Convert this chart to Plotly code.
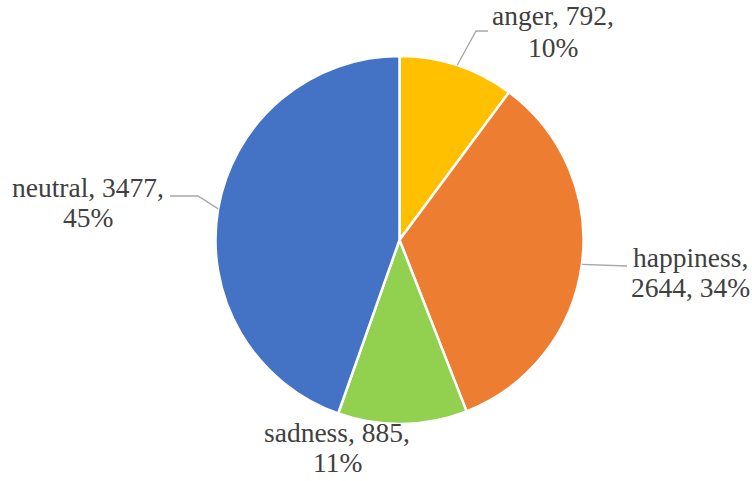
import math
import plotly.graph_objects as go

labels = ["anger", "happiness", "sadness", "neutral"]
values = [792, 2644, 885, 3477]
percents = ["10%", "34%", "11%", "45%"]
colors = ["#FFC000", "#ED7D31", "#92D050", "#4472C4"]

W, H = 752, 481
cx, cy, R = 399.5, 240, 184
FONT = "Liberation Serif, Times New Roman, serif"
FS = 27.5

# label layout: x center and baselines (pixels) of each line; leader line elbows
label_layout = {
    "anger": (553, [25, 57]),
    "happiness": (690, [267, 297]),
    "sadness": (337, [442, 472]),
    "neutral": (88, [197, 227]),
}
label_lines = {
    "anger": ["{l}, {v},", "{p}"],
    "happiness": ["{l},", "{v}, {p}"],
    "sadness": ["{l}, {v},", "{p}"],
    "neutral": ["{l}, {v},", "{p}"],
}
leaders = {
    "anger": [(476, 31), (488, 31)],
    "happiness": [(627, 266)],
    "neutral": [(198, 196), (170, 196)],
}

def px(x, y):
    return x / W, 1 - y / H

fig = go.Figure(go.Pie(
    labels=labels, values=values, sort=False, direction="clockwise", rotation=0,
    marker=dict(colors=colors, line=dict(color="white", width=2.5)),
    textinfo="none", hoverinfo="label+value+percent", showlegend=False,
    domain=dict(x=[(cx - R) / W, (cx + R) / W], y=[1 - (cy + R) / H, 1 - (cy - R) / H]),
))

total = sum(values)
cum = 0
shapes, annotations = [], []
for lab, v, p in zip(labels, values, percents):
    mid = (cum + v / 2) / total * 2 * math.pi
    cum += v
    sx, sy = cx + R * math.sin(mid), cy - R * math.cos(mid)
    if lab in leaders:
        pts = [(sx, sy)] + leaders[lab]
        path = "M " + " L ".join(f"{px(x, y)[0]:.5f},{px(x, y)[1]:.5f}" for x, y in pts)
        shapes.append(dict(type="path", path=path, xref="paper", yref="paper",
                           line=dict(color="#A6A6A6", width=1.3)))
    lx, baselines = label_layout[lab]
    for tmpl, base in zip(label_lines[lab], baselines):
        ax, ay = px(lx, base - 0.3375 * FS)
        annotations.append(dict(
            x=ax, y=ay, xref="paper", yref="paper", xanchor="center", yanchor="middle",
            text=tmpl.format(l=lab, v=v, p=p), showarrow=False, align="center",
            font=dict(family=FONT, size=FS, color="#404040"),
        ))

fig.update_layout(
    width=W, height=H, margin=dict(l=0, r=0, t=0, b=0),
    paper_bgcolor="white", plot_bgcolor="white",
    font=dict(family=FONT),
    shapes=shapes, annotations=annotations,
)
fig.write_html("out.html")
